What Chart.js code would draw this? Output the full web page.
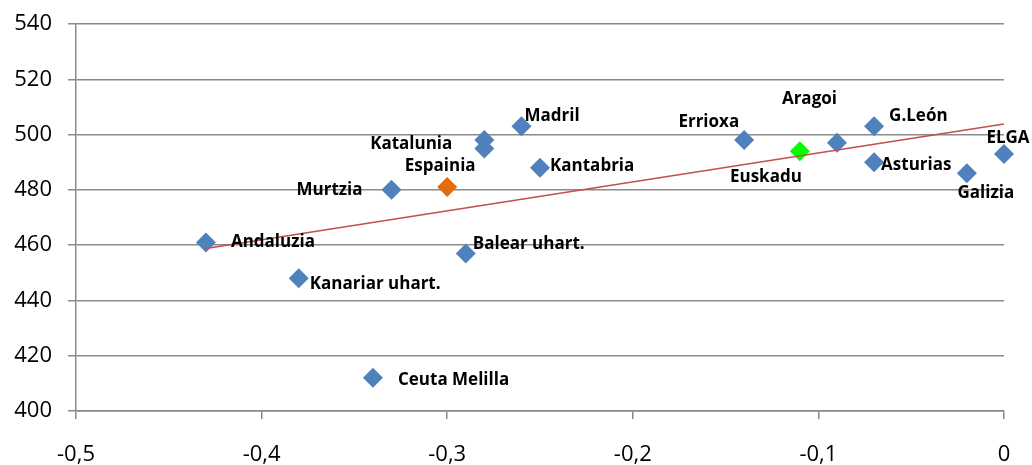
<!DOCTYPE html>
<html>
<head>
<meta charset="utf-8">
<script src="https://cdn.jsdelivr.net/npm/chart.js@4/dist/chart.umd.min.js"></script>
<style>
 body{margin:0;background:#fff;}
 #wrap{width:1032px;height:465px;}
</style>
</head>
<body>
<div id="wrap"><canvas id="scatterChart" width="1032" height="465"></canvas></div>
<script>
// data
var regions = ["Andaluzia","Kanariar uhart.","Ceuta Melilla","Murtzia","Espainia","Katalunia","","Madril","Balear uhart.","Kantabria","Errioxa","Euskadu","Aragoi","G.León","Asturias","Galizia","ELGA"];
var xVals = [-0.43,-0.38,-0.34,-0.33,-0.30,-0.28,-0.28,-0.26,-0.29,-0.25,-0.14,-0.11,-0.09,-0.07,-0.07,-0.02,0];
var yVals = [461,448,412,480,481,498,495,503,457,488,498,494,497,503,490,486,493];
var trendX = [-0.43, 0];
var trendY = [458.8, 503.8];
var xTicks = [-0.5,-0.4,-0.3,-0.2,-0.1,0];
var yTicks = [400,420,440,460,480,500,520,540];

// label placement next to each point: [dx, dy, align]
var labelPos = [[25,0,"left"],[11,6,"left"],[25,2,"left"],[-29,0,"right"],[-7,-21,"center"],[-32,4,"right"],[0,0,"left"],
	[3,-10,"left"],[7,-9,"left"],[10,-2,"left"],[-5,-18,"right"],[2,26,"right"],[0,-44,"right"],[15,-10,"left"],
	[7,3,"left"],[19,20,"center"],[4,-16,"center"]];

var pts=[];
var cols=[];
for(var k=0;k<regions.length;k++){
	pts.push({x:xVals[k], y:yVals[k]});
	if(regions[k]=="Espainia") cols.push("#E46C0A");
	else if(regions[k]=="Euskadu") cols.push("#00FF00");
	else cols.push("#4F81BD");
}
var trend=[];
for(var k=0;k<trendX.length;k++) trend.push({x:trendX[k], y:trendY[k]});

var gridCol = "#8a8a8a";

var pointLabels = {
	id: "pointLabels",
	afterDatasetsDraw: function(chart){
		var ctx = chart.ctx;
		var meta = chart.getDatasetMeta(1);
		ctx.save();
		ctx.font = "bold 17px 'Open Sans'";
		ctx.fillStyle = "#000";
		ctx.textBaseline = "middle";
		for(var k=0;k<regions.length;k++){
			if(!regions[k]) continue;
			var p = meta.data[k];
			ctx.textAlign = labelPos[k][2];
			ctx.fillText(regions[k], p.x + labelPos[k][0], p.y + labelPos[k][1]);
		}
		ctx.restore();
	}
};

var ctx = document.getElementById("scatterChart").getContext("2d");
var myChart = new Chart(ctx, {
	type: "scatter",
	data: {
		datasets: [
			{
				label: "Trend",
				data: trend,
				showLine: true,
				borderColor: "#C0504D",
				borderWidth: 1.5,
				pointRadius: 0,
				order: 0,
				clip: false
			},
			{
				label: "Regions",
				data: pts,
				pointStyle: "rectRot",
				pointRadius: 10,
				pointBackgroundColor: cols,
				pointBorderColor: cols,
				pointBorderWidth: 0,
				order: 1,
				clip: false
			}
		]
	},
	options: {
		responsive: false,
		animation: false,
		devicePixelRatio: 1,
		layout: { padding: { top: 24, right: 28, left: 0, bottom: 0 } },
		plugins: { legend: { display: false }, tooltip: { enabled: false } },
		scales: {
			x: {
				type: "linear",
				min: -0.5, max: 0,
				afterBuildTicks: function(s){ s.ticks = xTicks.map(function(v){ return {value:v}; }); },
				afterFit: function(s){ s.height = 54; s.paddingLeft = 0; s.paddingRight = 0; },
				grid: { drawOnChartArea: false, drawTicks: true, tickLength: 8, color: gridCol, lineWidth: 1.5 },
				border: { display: true, color: gridCol, width: 1.5 },
				ticks: {
					padding: 23,
					color: "#000",
					font: { family: "'Open Sans'", size: 22 },
					callback: function(v){ var r = Math.round(v*10)/10; return r==0 ? "0" : r.toFixed(1).replace(".", ","); }
				}
			},
			y: {
				type: "linear",
				min: 400, max: 540,
				afterBuildTicks: function(s){ s.ticks = yTicks.map(function(v){ return {value:v}; }); },
				afterFit: function(s){ s.width = 76; s.paddingTop = 0; s.paddingBottom = 0; },
				grid: { drawOnChartArea: true, drawTicks: true, tickLength: 8, color: gridCol, lineWidth: 1.5 },
				border: { display: true, color: gridCol, width: 1.5 },
				ticks: {
					padding: 16,
					color: "#000",
					font: { family: "'Open Sans'", size: 22 }
				}
			}
		}
	},
	plugins: [pointLabels]
});
</script>
</body>
</html>
